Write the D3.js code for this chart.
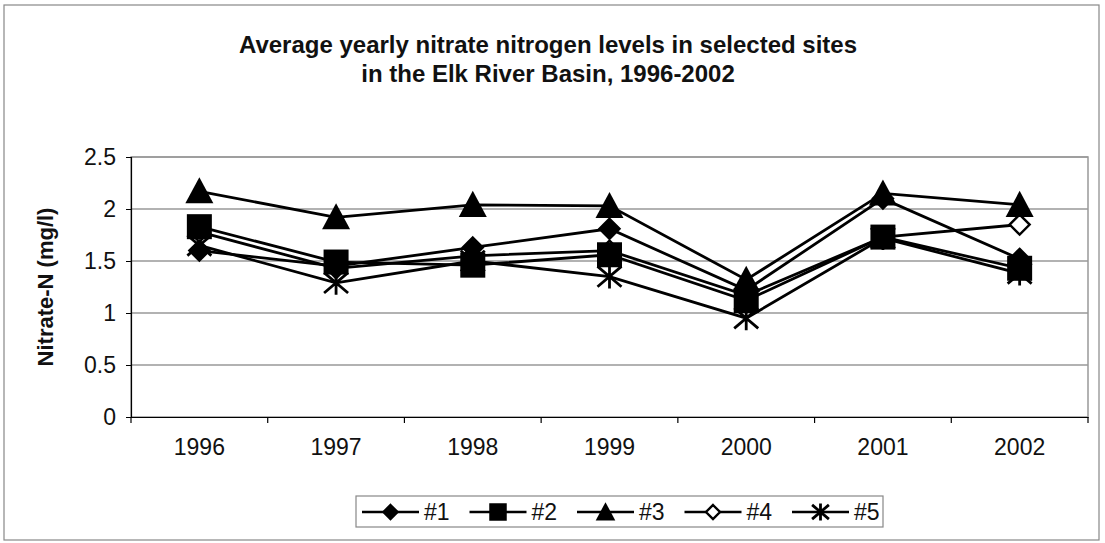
<!DOCTYPE html>
<html><head><meta charset="utf-8">
<script src="https://cdn.jsdelivr.net/npm/d3@7/dist/d3.min.js"></script>
<style>body{margin:0;background:#fff}svg{display:block}text{font-family:"Liberation Sans",Arial,sans-serif}</style>
</head><body>
<script>
const years = ["1996","1997","1998","1999","2000","2001","2002"];
const seriesNames = ["#1","#2","#3","#4","#5"];
const site1 = [1.60, 1.45, 1.63, 1.81, 1.22, 2.10, 1.52];
const site2 = [1.83, 1.49, 1.46, 1.56, 1.12, 1.73, 1.43];
const site3 = [2.17, 1.92, 2.04, 2.03, 1.32, 2.15, 2.04];
const site4 = [1.78, 1.43, 1.55, 1.60, 1.17, 1.73, 1.85];
const site5 = [1.65, 1.29, 1.50, 1.35, 0.95, 1.72, 1.38];
const yTicks = [0, 0.5, 1, 1.5, 2, 2.5];
const titleLines = ["Average yearly nitrate nitrogen levels in selected sites","in the Elk River Basin, 1996-2002"];
const yTitle = "Nitrate-N (mg/l)";

const series = [
  {name: seriesNames[0], values: site1, marker: "diamond"},
  {name: seriesNames[1], values: site2, marker: "square"},
  {name: seriesNames[2], values: site3, marker: "triangle"},
  {name: seriesNames[3], values: site4, marker: "openDiamond"},
  {name: seriesNames[4], values: site5, marker: "star"}
];

const W = 1105, H = 543;
const svg = d3.select("body").append("svg").attr("width", W).attr("height", H);
svg.append("rect").attr("x",4).attr("y",5).attr("width",1095).attr("height",535)
  .attr("fill","#fff").attr("stroke","#888").attr("stroke-width",1.2);

const L = 131, R = 1088, T = 157, B = 417;
const x = d3.scaleBand().domain(years).range([L, R]);
const y = d3.scaleLinear().domain([0, 2.5]).range([B, T]);

// plot area
svg.append("rect").attr("x",L).attr("y",T).attr("width",R-L).attr("height",B-T)
  .attr("fill","#fff").attr("stroke","#999").attr("stroke-width",1.5);
svg.append("g").selectAll("line").data(yTicks.filter(d=>d>0)).join("line")
  .attr("x1",L).attr("x2",R).attr("y1",d=>y(d)).attr("y2",d=>y(d))
  .attr("stroke","#999").attr("stroke-width",1.5);

// axes
const yAxis = svg.append("g").attr("transform",`translate(${L},0)`)
  .call(d3.axisLeft(y).tickValues(yTicks).tickFormat(d=>String(d)).tickSizeOuter(0).tickSize(5).tickPadding(10));
yAxis.select(".domain").attr("stroke","#000").attr("stroke-width",1.2);
yAxis.selectAll("line").attr("stroke","#000");
yAxis.selectAll("text").attr("font-size",23).attr("fill","#111");

const xAxis = svg.append("g").attr("transform",`translate(0,${B})`)
  .call(d3.axisBottom(x).tickSize(0).tickPadding(22).tickSizeOuter(0));
xAxis.select(".domain").attr("stroke","#000").attr("stroke-width",1.2);
xAxis.selectAll("text").attr("font-size",23).attr("fill","#111");
svg.append("g").selectAll("line").data(years.concat(["end"])).join("line")
  .attr("x1",(d,i)=>i<years.length? x(d): R).attr("x2",(d,i)=>i<years.length? x(d): R)
  .attr("y1",B).attr("y2",B+6).attr("stroke","#000").attr("stroke-width",1.2);

// titles
svg.append("g").selectAll("text").data(titleLines).join("text")
  .attr("x",548).attr("y",(d,i)=>53+i*29).attr("text-anchor","middle")
  .attr("font-size",24).attr("font-weight","bold").attr("fill","#111").text(d=>d);
svg.append("text").attr("transform","translate(53,287) rotate(-90)").attr("text-anchor","middle")
  .attr("font-size",22).attr("font-weight","bold").attr("fill","#111").text(yTitle);

// marker drawing
function drawMarker(g, type, cx, cy, s) {
  s = s || 1;
  if (type === "diamond" || type === "openDiamond") {
    const r = 10*s;
    g.append("path").attr("d",`M${cx},${cy-r}L${cx+r},${cy}L${cx},${cy+r}L${cx-r},${cy}Z`)
      .attr("fill", type==="diamond"?"#000":"#fff").attr("stroke","#000").attr("stroke-width",2.4);
  } else if (type === "square") {
    const r = 12.5*s;
    g.append("rect").attr("x",cx-r).attr("y",cy-r).attr("width",2*r).attr("height",2*r).attr("fill","#000");
  } else if (type === "triangle") {
    const r = 14*s;
    g.append("path").attr("d",`M${cx},${cy-r}L${cx+r},${cy+r*0.86}L${cx-r},${cy+r*0.86}Z`).attr("fill","#000");
  } else if (type === "star") {
    const r = 12*s;
    const p = [];
    [[-1,-1],[1,1],[-1,1],[1,-1]].forEach(([a,b])=>p.push(`M${cx+a*r},${cy+b*r*0.85}L${cx-a*r},${cy-b*r*0.85}`));
    p.push(`M${cx},${cy-r}L${cx},${cy+r}`);
    g.append("path").attr("d",p.join("")).attr("stroke","#000").attr("stroke-width",2.8);
  }
}

const cx = d => x(d) + x.bandwidth()/2;
const line = d3.line().x((d,i)=>cx(years[i])).y(d=>y(d));
const drawOrder = series.slice().reverse();
const gl = svg.append("g");
drawOrder.forEach(s=>{
  gl.append("path").attr("d",line(s.values)).attr("fill","none").attr("stroke","#000").attr("stroke-width",2.8);
});
const gm = svg.append("g");
drawOrder.forEach(s=>{
  s.values.forEach((v,i)=>drawMarker(gm, s.marker, cx(years[i]), y(v)));
});

// legend
const lg = svg.append("g");
lg.append("rect").attr("x",356).attr("y",496).attr("width",527).attr("height",31)
  .attr("fill","#fff").attr("stroke","#888").attr("stroke-width",1.2);
series.forEach((s,i)=>{
  const x0 = 362 + i*107.5;
  lg.append("line").attr("x1",x0).attr("x2",x0+57).attr("y1",512).attr("y2",512).attr("stroke","#000").attr("stroke-width",2.6);
  drawMarker(lg, s.marker, x0+28.5, 512, 0.7);
  lg.append("text").attr("x",x0+62).attr("y",520).attr("font-size",23).attr("fill","#111").text(s.name);
});
</script>
</body></html>
